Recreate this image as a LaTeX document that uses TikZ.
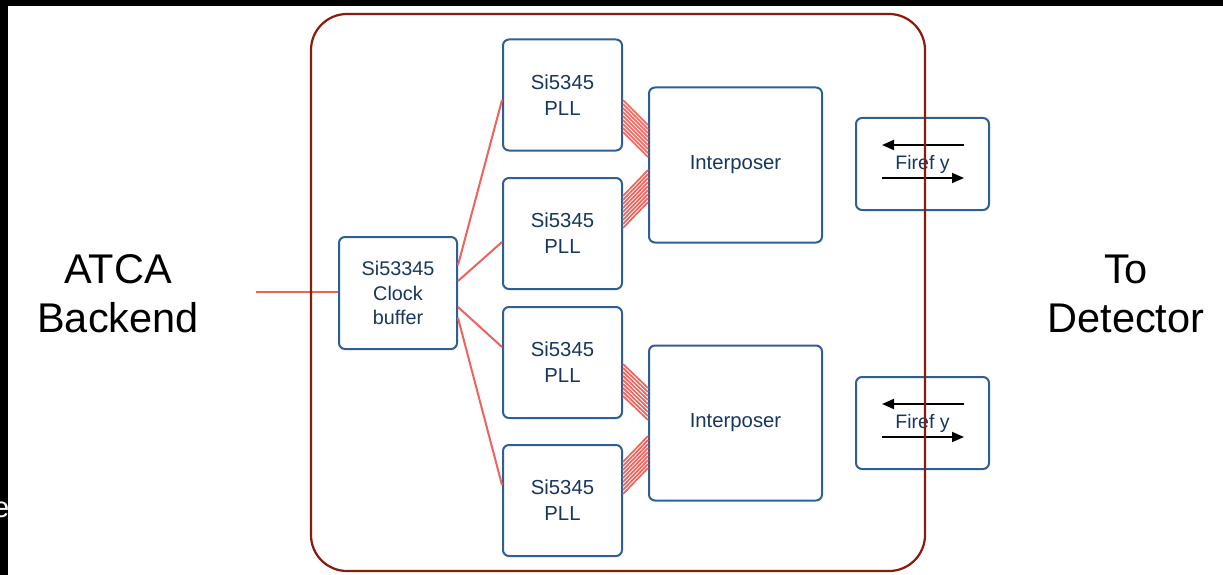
\documentclass[tikz,border=0pt]{standalone}
\usepackage{fontspec}
\setmainfont{Liberation Sans}
\usetikzlibrary{arrows.meta}
\definecolor{boxblue}{RGB}{46,96,150}
\definecolor{txtblue}{RGB}{23,55,94}
\definecolor{sigred}{RGB}{240,98,90}
\definecolor{boardred}{RGB}{140,26,12}
\begin{document}
\begin{tikzpicture}[x=1pt,y=-1pt,
  blk/.style={draw=boxblue, line width=2pt, rounded corners=6pt, fill=white, text=txtblue,
    font=\fontsize{20.3}{26}\selectfont, align=center, inner sep=0pt},
  pllbox/.style={blk, minimum width=119pt, minimum height=111pt},
  intbox/.style={blk, minimum width=173pt, minimum height=155pt},
  ffbox/.style={blk, minimum width=133pt, minimum height=92pt, font=\fontsize{19.5}{26}\selectfont},
  sig/.style={draw=sigred, line width=2pt},
  bus/.style={draw=sigred, line width=1.7pt},
  lbl/.style={font=\fontsize{41.5}{49}\selectfont, align=center, text=black, inner sep=0pt},
  fa/.style={draw=black, line width=1.8pt, -{Triangle[length=12pt,width=10pt]}}]
\useasboundingbox (0,0) rectangle (1223,575);
\fill[white] (0,0) rectangle (1223,575);
% black slide edges
\fill[black] (0,0) rectangle (1223,6);
\fill[black] (0,0) rectangle (8,575);
\node[anchor=base east, text=white, font=\fontsize{29}{29}\selectfont, inner sep=0pt] (edgee) at (9.5,517) {e};
% side labels
\node[lbl] (atca) at (118,294) {ATCA\\Backend};
\node[lbl] (todet) at (1126,294) {To\\Detector};
% blocks
\node[blk, minimum width=118pt, minimum height=112pt, font=\fontsize{19.8}{24.5}\selectfont] (clk) at (398,293) {Si53345\\Clock\\buffer};
\node[pllbox] (pll1) at (562.5,95) {Si5345\\PLL};
\node[pllbox] (pll2) at (562.5,233.5) {Si5345\\PLL};
\node[pllbox] (pll3) at (562.5,362.5) {Si5345\\PLL};
\node[pllbox] (pll4) at (562.5,500.5) {Si5345\\PLL};
\node[intbox] (int1) at (735.5,165) {Interposer};
\node[intbox] (int2) at (735.5,423) {Interposer};
\node[ffbox] (ff1) at (922.5,164) {Firef y};
\node[ffbox] (ff2) at (922.5,423) {Firef y};
% clock distribution
\coordinate (in) at (256,292);
\draw[sig] (in) -- (in -| clk.west);
\draw[sig] ([yshift=28pt]clk.east) -- ([yshift=-5pt]pll1.west);
\draw[sig] ([yshift=12pt]clk.east) -- ([yshift=-8.5pt]pll2.west);
\draw[sig] ([yshift=-14pt]clk.east) -- ([yshift=15.5pt]pll3.west);
\draw[sig] ([yshift=-25pt]clk.east) -- ([yshift=15.5pt]pll4.west);
% buses
\foreach \k in {0,...,8}{
  \draw[bus] ([yshift={-5pt-4pt*\k}]pll1.east) -- ([yshift={40pt-4pt*\k}]int1.west);
  \draw[bus] ([yshift={37.5pt-4pt*\k}]pll2.east) -- ([yshift={-5pt-4pt*\k}]int1.west);
  \draw[bus] ([yshift={-1.5pt-4pt*\k}]pll3.east) -- ([yshift={35pt-4pt*\k}]int2.west);
  \draw[bus] ([yshift={38.5pt-4pt*\k}]pll4.east) -- ([yshift={-13pt-4pt*\k}]int2.west);
}
% firefly arrows
\draw[fa] ([xshift=41.5pt,yshift=19pt]ff1.center) -- ([xshift=-40.5pt,yshift=19pt]ff1.center);
\draw[fa] ([xshift=-40.5pt,yshift=-14pt]ff1.center) -- ([xshift=41.5pt,yshift=-14pt]ff1.center);
\draw[fa] ([xshift=41.5pt,yshift=19pt]ff2.center) -- ([xshift=-40.5pt,yshift=19pt]ff2.center);
\draw[fa] ([xshift=-40.5pt,yshift=-14pt]ff2.center) -- ([xshift=41.5pt,yshift=-14pt]ff2.center);
% board outline
\node[draw=boardred, line width=2.2pt, rounded corners=36pt, minimum width=614pt, minimum height=557pt, inner sep=0pt] (board) at (618,292.5) {};
\end{tikzpicture}
\end{document}
